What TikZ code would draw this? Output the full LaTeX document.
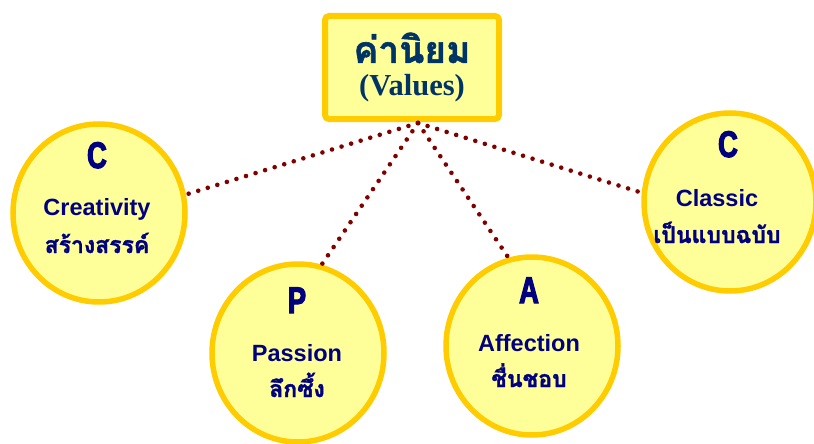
\documentclass[tikz,border=0pt]{standalone}
\usepackage{fontspec}
\setmainfont{Liberation Sans}
\newfontfamily\thaifont[Script=Thai,FakeBold=1.5]{Loma}
\newfontfamily\timesfont{Liberation Serif}
\newfontfamily\initfont[FakeStretch=0.74,FakeBold=3]{Liberation Sans}
\usetikzlibrary{shapes}
\definecolor{ringyellow}{RGB}{255,204,0}
\definecolor{paleyellow}{RGB}{255,255,153}
\definecolor{navytext}{RGB}{0,0,128}
\definecolor{titleblue}{RGB}{0,51,102}
\definecolor{dotred}{RGB}{128,0,0}

\begin{document}
\begin{tikzpicture}[x=1pt,y=-1pt]
\tikzset{value/.style = {shape=ellipse,draw=ringyellow,fill=paleyellow,line width=5.5pt,minimum width=172pt,minimum height=178pt,inner sep=0pt}}
\tikzset{headbox/.style = {shape=rectangle,draw=ringyellow,fill=paleyellow,line width=6pt,rounded corners=4pt,minimum width=174pt,minimum height=103pt,inner sep=0pt,align=center,text=titleblue}}
\tikzset{initial/.style = {anchor=base,inner sep=0pt,text=navytext,font=\initfont\bfseries\fontsize{37}{37}\selectfont}}
\tikzset{word/.style = {anchor=base,inner sep=0pt,text=navytext,font=\bfseries\fontsize{23.5}{23.5}\selectfont}}
\tikzset{thaiword/.style = {anchor=base,inner sep=0pt,text=navytext,font=\thaifont\bfseries\fontsize{23}{23}\selectfont}}
\tikzset{link/.style = {draw=dotred,line width=4.6pt,line cap=round,dash pattern=on 0pt off 10pt}}
\useasboundingbox (0,0) rectangle (814,444);

% heading
\node[headbox,font=\fontsize{30.5}{33}\selectfont] (head) at (412,67.5)
  {{\thaifont\bfseries\fontsize{37}{33}\selectfont ค่านิยม}\\{\timesfont\bfseries (Values)}};
\coordinate (hub) at (418,123);

% the four values
\node[value] (creat) at (99,213) {};
\node[value] (passion) at (298,353) {};
\node[value] (affect) at (532,346) {};
\node[value] (classic) at (730,202) {};

% dotted links
\draw[link] (hub) -- (creat.12);
\draw[link] (hub) -- (passion.75);
\draw[link] (hub) -- (affect.105);
\draw[link] (hub) -- (classic.174);

\node[initial] (creatC) at (97,168) {C};
\node[word] (creatEn) at (97,215) {Creativity};
\node[thaiword] (creatTh) at (97,253) {สร้างสรรค์};

\node[initial] (passionP) at (297,313) {P};
\node[word] (passionEn) at (297,361) {Passion};
\node[thaiword] (passionTh) at (297,397) {ลึกซึ้ง};

\node[initial] (affectA) at (529,303) {A};
\node[word] (affectEn) at (529,351) {Affection};
\node[thaiword] (affectTh) at (529,387) {ชื่นชอบ};

\node[initial] (classicC) at (728,157) {C};
\node[word] (classicEn) at (717,206) {Classic};
\node[thaiword] (classicTh) at (717,243) {เป็นแบบฉบับ};
\end{tikzpicture}
\end{document}
